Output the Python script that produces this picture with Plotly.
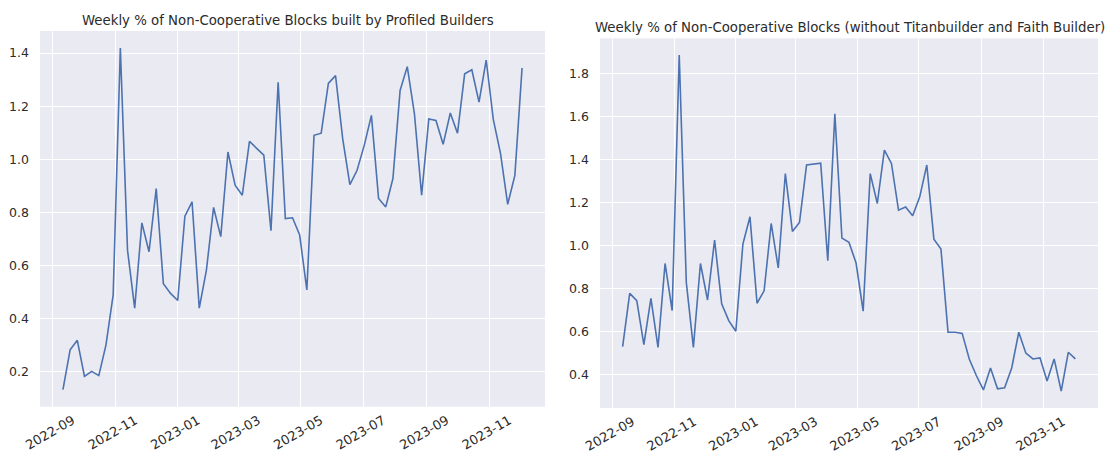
import pandas as pd
import plotly.graph_objects as go

# ---- data ----
start_week = "2022-09-11"
n_weeks = 65
weeks = pd.date_range(start_week, periods=n_weeks, freq="7D")

profiled_pct = [
    0.131, 0.281, 0.317, 0.181, 0.200, 0.184, 0.300, 0.488, 1.419, 0.657,
    0.438, 0.760, 0.651, 0.889, 0.530, 0.494, 0.467, 0.785, 0.839, 0.438,
    0.582, 0.818, 0.708, 1.027, 0.902, 0.864, 1.067, 1.040, 1.015, 0.730,
    1.290, 0.776, 0.779, 0.714, 0.507, 1.090, 1.098, 1.286, 1.315, 1.077,
    0.904, 0.958, 1.052, 1.165, 0.852, 0.820, 0.927, 1.259, 1.349, 1.171,
    0.864, 1.152, 1.146, 1.056, 1.174, 1.098, 1.322, 1.337, 1.215, 1.374,
    1.149, 1.021, 0.830, 0.939, 1.344,
]

without_titan_faith_pct = [
    0.531, 0.779, 0.745, 0.541, 0.756, 0.528, 0.918, 0.699, 1.887, 0.830,
    0.528, 0.918, 0.748, 1.027, 0.730, 0.652, 0.603, 1.008, 1.135, 0.733,
    0.791, 1.104, 0.897, 1.336, 1.067, 1.109, 1.376, 1.379, 1.384, 0.931,
    1.614, 1.036, 1.016, 0.920, 0.696, 1.336, 1.197, 1.445, 1.383, 1.166,
    1.181, 1.140, 1.228, 1.376, 1.031, 0.985, 0.598, 0.598, 0.593, 0.474,
    0.397, 0.330, 0.432, 0.335, 0.340, 0.432, 0.598, 0.501, 0.474, 0.479,
    0.371, 0.474, 0.324, 0.505, 0.474,
]

titles = [
    "Weekly % of Non-Cooperative Blocks built by Profiled Builders",
    "Weekly % of Non-Cooperative Blocks (without Titanbuilder and Faith Builder)",
]

# ---- styling ----
W, H = 1110, 457
BG = "#EAEAF2"
LINE = "#4C72B0"
TXT = "#2b2b2b"
FONT = "DejaVu Sans"


def pad_range(vals, frac=0.05):
    lo, hi = min(vals), max(vals)
    d = (hi - lo) * frac
    return [lo - d, hi + d]


def pad_dates(ds, frac=0.05):
    lo, hi = ds[0], ds[-1]
    d = (hi - lo) * frac
    return [lo - d, hi + d]


fig = go.Figure()
fig.add_trace(go.Scatter(x=weeks, y=profiled_pct, mode="lines",
                         line=dict(color=LINE, width=1.6), xaxis="x", yaxis="y",
                         showlegend=False))
fig.add_trace(go.Scatter(x=weeks, y=without_titan_faith_pct, mode="lines",
                         line=dict(color=LINE, width=1.6), xaxis="x2", yaxis="y2",
                         showlegend=False))

dom_left_x = [40 / W, 545 / W]
dom_left_y = [1 - 406.7 / H, 1 - 31 / H]
dom_right_x = [600 / W, 1098 / W]
dom_right_y = [1 - 408 / H, 1 - 38.3 / H]

xr = [d.strftime("%Y-%m-%d %H:%M") for d in pad_dates(weeks)]

xaxis_common = dict(
    type="date", range=xr, tick0="2022-09-01", dtick="M2", tickformat="%Y-%m",
    tickangle=-30, ticklabelshift=20, ticklabelstandoff=3, automargin=False,
    showgrid=True, gridcolor="white", gridwidth=1.2, zeroline=False,
    showline=False, ticks="", tickfont=dict(family=FONT, size=13, color=TXT),
)
yaxis_common = dict(
    showgrid=True, gridcolor="white", gridwidth=1.2, zeroline=False,
    showline=False, ticks="", ticklabelstandoff=10, tickformat=".1f",
    automargin=False, tickfont=dict(family=FONT, size=12.5, color=TXT),
)

fig.update_layout(
    width=W, height=H,
    margin=dict(l=0, r=0, t=0, b=0, autoexpand=False),
    paper_bgcolor="white",
    plot_bgcolor=BG,
    xaxis=dict(domain=dom_left_x, anchor="y", **xaxis_common),
    yaxis=dict(domain=dom_left_y, anchor="x", range=pad_range(profiled_pct),
               dtick=0.2, tick0=0, **yaxis_common),
    xaxis2=dict(domain=dom_right_x, anchor="y2", **xaxis_common),
    yaxis2=dict(domain=dom_right_y, anchor="x2", range=pad_range(without_titan_faith_pct),
                dtick=0.2, tick0=0, **yaxis_common),
)

fig.add_annotation(text=titles[0], xref="paper", yref="paper",
                   x=288 / W, y=1 - 21 / H,
                   xanchor="center", yanchor="middle", showarrow=False,
                   font=dict(family=FONT, size=13.3, color=TXT))
fig.add_annotation(text=titles[1], xref="paper", yref="paper",
                   x=849.5 / W, y=1 - 27.5 / H,
                   xanchor="center", yanchor="middle", showarrow=False,
                   font=dict(family=FONT, size=13.3, color=TXT))

fig.write_html("out.html", config={"displayModeBar": False},
               post_script="document.body.style.margin='0';")
